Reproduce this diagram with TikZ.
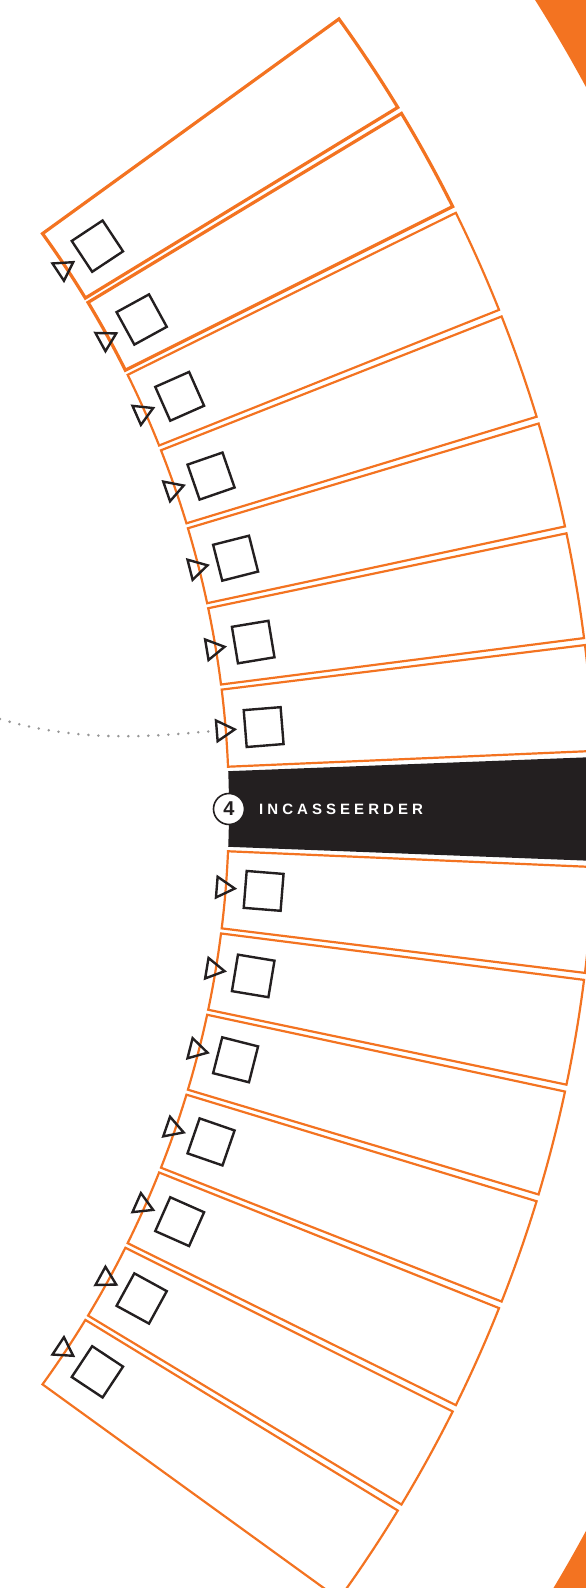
\documentclass[tikz,border=0pt]{standalone}
\usepackage{fontspec}
\setmainfont{Liberation Sans}
\usetikzlibrary{shapes.geometric}
\definecolor{fanorange}{RGB}{243,115,33}
\definecolor{fandark}{RGB}{35,31,32}
\definecolor{fangray}{RGB}{150,150,150}
\tikzset{
  fanbox/.style={draw=fanorange, line width=2.2pt},
  fanband/.style={fill=fandark},
  fancheck/.style={rectangle, draw=fandark, line width=2.4pt, minimum size=37pt,
                   inner sep=0pt},
  fanmark/.style={regular polygon, regular polygon sides=3, draw=fandark,
                  line width=2.4pt, minimum size=24pt, inner sep=0pt},
  fanbadge/.style={circle, draw=fandark, fill=white, line width=1.6pt,
                   minimum size=31pt, inner sep=0pt, text=fandark,
                   font=\bfseries\fontsize{20}{20}\selectfont},
  fanlabel/.style={anchor=west, inner sep=0pt, text=white,
                   font=\bfseries\fontsize{15}{15}\selectfont\addfontfeature{LetterSpace=27}},
  fantrail/.style={draw=fangray, line width=2.8pt, line cap=round,
                   dash pattern=on 0pt off 10pt}
}
\begin{document}
\begin{tikzpicture}[x=1pt, y=1pt]
  \useasboundingbox (0,0) rectangle (586,1588);
  \clip (0,0) rectangle (586,1588);
  \begin{scope}[shift={(-752,779)}]
    \fill[fanorange, even odd rule] (0,0) circle[radius=1520pt] circle[radius=1700pt];
    \fill[fanband] (-2.21:981pt) arc[start angle=-2.21, end angle=2.21, radius=981pt]
      -- (2.21:1400pt) -- (-2.21:1400pt) -- cycle;
    \foreach \s/\side in {1/up,-1/dn} {
      \foreach \k in {1,...,7} {
        \pgfmathsetmacro{\angA}{\s*(2.47+4.82*(\k-1))}
        \pgfmathsetmacro{\angB}{\s*(6.99+4.82*(\k-1))}
        \pgfmathsetmacro{\angM}{\s*(4.61+4.82*(\k-1))}
        \pgfmathsetmacro{\angT}{\angM-90}
        \pgfmathsetmacro{\lw}{\s*\k>5 ? 3.2 : 2.2}
        \draw[fanbox, line width=\lw pt] (\angA:981pt)
          arc[start angle=\angA, end angle=\angB, radius=981pt]
          -- (\angB:1347pt) arc[start angle=\angB, end angle=\angA, radius=1347pt]
          -- cycle;
        \node[fancheck, rotate=\angM] (check-\side-\k) at (\angM:1019pt) {};
        \node[fanmark, rotate=\angT] (mark-\side-\k) at (\angM:978pt) {};
      }
    }
    \node[fanbadge] (badge) at (0:981pt) {4};
    \node[fanlabel] (title) at (1011,0) {INCASSEERDER};
  \end{scope}
  \coordinate (trailstart) at (0,869);
  \draw[fantrail] (trailstart) .. controls (90,842) and (170,854) .. (mark-up-1.side 2);
\end{tikzpicture}
\end{document}
